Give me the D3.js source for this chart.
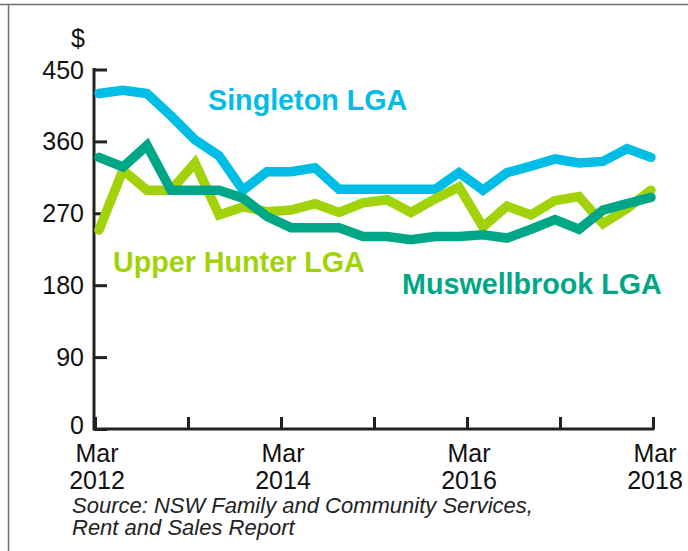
<!DOCTYPE html>
<html>
<head>
<meta charset="utf-8">
<script src="https://cdn.jsdelivr.net/npm/d3@7"></script>
<style>
  body { margin: 0; background: #fff; }
  svg { display: block; }
  text { font-family: "Liberation Sans", Arial, sans-serif; }
</style>
</head>
<body>
<svg id="chart" width="688" height="551"></svg>
<script>
// median weekly rent, $
const singleton = [420, 424, 420, 392, 362, 342, 299, 322, 322, 327, 300, 300, 300, 300, 300, 321, 299, 321, 329, 338, 333, 335, 351, 340]
const upperHunter = [249, 324, 299, 299, 333, 268, 278, 272, 274, 282, 271, 283, 287, 271, 288, 303, 253, 279, 268, 286, 291, 257, 276, 299]
const muswellbrook = [340, 328, 355, 299, 299, 299, 289, 266, 252, 252, 252, 241, 241, 237, 241, 241, 243, 239, 250, 262, 250, 274, 282, 290]

const yTicks = [0, 90, 180, 270, 360, 450]
const xTickYears = [2012, 2013, 2014, 2015, 2016, 2017, 2018]
const xLabelYears = [2012, 2014, 2016, 2018]
const xLabelMonth = 'Mar'

const seriesNames = ['Singleton LGA', 'Upper Hunter LGA', 'Muswellbrook LGA']
const seriesColors = ['#00bde6', '#a2d30a', '#00a786']

const svg = d3.select('#chart')

// frame
svg.append('path')
  .attr('d', 'M0,4.5H688M8.5,4.5V551')
  .attr('fill', 'none')
  .attr('stroke', '#707070')
  .attr('stroke-width', 1.5)

const y = d3.scaleLinear().domain([0, 450]).range([429, 69.5])
const xAxisScale = d3.scaleLinear().domain([2012, 2018]).range([95, 653])
const xPoint = d3.scalePoint().domain(d3.range(singleton.length)).range([99, 651])

// y axis
const yAxis = svg.append('g').attr('transform', 'translate(94,0)')
  .call(d3.axisRight(y).tickValues(yTicks).tickSize(13).tickFormat(''))
yAxis.select('.domain').remove()
yAxis.selectAll('line').attr('stroke', '#222').attr('stroke-width', 3)
svg.append('line')
  .attr('x1', 94).attr('x2', 94)
  .attr('y1', y(450) - 1.5).attr('y2', y(0) + 1.5)
  .attr('stroke', '#222').attr('stroke-width', 3)

svg.append('g').selectAll('text')
  .data(yTicks)
  .join('text')
  .attr('x', 84)
  .attr('y', d => d === 0 ? y(d) + 5 : y(d) + 9)
  .attr('text-anchor', 'end')
  .attr('font-size', 25)
  .attr('fill', '#111')
  .text(d => d)

svg.append('text')
  .attr('x', 78).attr('y', 47)
  .attr('text-anchor', 'middle')
  .attr('font-size', 25)
  .attr('fill', '#111')
  .text('$')

// x axis
const xAxis = svg.append('g').attr('transform', `translate(0,${y(0)})`)
  .call(d3.axisTop(xAxisScale).tickValues(xTickYears).tickSize(12).tickFormat(''))
xAxis.select('.domain').remove()
xAxis.selectAll('line').attr('stroke', '#222').attr('stroke-width', 3)
svg.append('line')
  .attr('x1', 94).attr('x2', xAxisScale(2018) + 1.5)
  .attr('y1', y(0)).attr('y2', y(0))
  .attr('stroke', '#222').attr('stroke-width', 3)

const xLabels = svg.append('g').selectAll('text')
  .data(xLabelYears)
  .join('text')
  .attr('text-anchor', 'middle')
  .attr('font-size', 25)
  .attr('fill', '#111')
xLabels.append('tspan')
  .attr('x', d => xAxisScale(d) + 2)
  .attr('y', 462)
  .text(xLabelMonth)
xLabels.append('tspan')
  .attr('x', d => xAxisScale(d) + 2)
  .attr('y', 489)
  .text(d => d)

// lines
const line = d3.line()
  .x((d, i) => xPoint(i))
  .y(d => y(d))

const allSeries = [singleton, upperHunter, muswellbrook]
svg.append('g').selectAll('path')
  .data(allSeries)
  .join('path')
  .attr('d', d => line(d))
  .attr('fill', 'none')
  .attr('stroke', (d, i) => seriesColors[i])
  .attr('stroke-width', 9.5)
  .attr('stroke-linecap', 'round')
  .attr('stroke-linejoin', 'miter')

// series labels
const labelPos = [[208, 110], [113, 272], [402, 294]]
svg.append('g').selectAll('text')
  .data(seriesNames)
  .join('text')
  .attr('x', (d, i) => labelPos[i][0])
  .attr('y', (d, i) => labelPos[i][1])
  .attr('font-size', 28.7)
  .attr('font-weight', 'bold')
  .attr('fill', (d, i) => seriesColors[i])
  .text(d => d)

// source
const source = svg.append('text')
  .attr('font-size', 22)
  .attr('font-style', 'italic')
  .attr('fill', '#222')
source.append('tspan').attr('x', 72).attr('y', 513)
  .text('Source: NSW Family and Community Services,')
source.append('tspan').attr('x', 72).attr('y', 535)
  .text('Rent and Sales Report')
</script>
</body>
</html>
